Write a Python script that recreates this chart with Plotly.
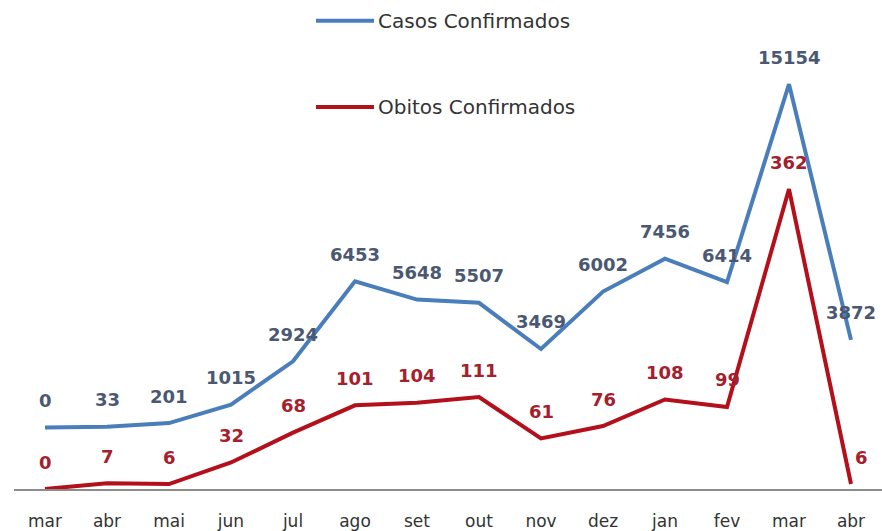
import plotly.graph_objects as go

months = ["mar", "abr", "mai", "jun", "jul", "ago", "set", "out", "nov", "dez", "jan", "fev", "mar", "abr"]
casos = [0, 33, 201, 1015, 2924, 6453, 5648, 5507, 3469, 6002, 7456, 6414, 15154, 3872]
obitos = [0, 7, 6, 32, 68, 101, 104, 111, 61, 76, 108, 99, 362, 6]

x_idx = list(range(len(months)))

BLUE = "#4a7ebb"
RED = "#b3101c"
BLUE_TXT = "#4a5872"
RED_TXT = "#a3202c"

PLOT_H = 494.0

fig = go.Figure()
fig.add_trace(go.Scatter(x=x_idx, y=obitos, mode="lines", name="Obitos Confirmados",
                         line=dict(color=RED, width=4), yaxis="y", showlegend=False))
fig.add_trace(go.Scatter(x=x_idx, y=casos, mode="lines", name="Casos Confirmados",
                         line=dict(color=BLUE, width=4), yaxis="y2", showlegend=False))

annotations = []
for i, v in enumerate(casos):
    annotations.append(dict(x=i, y=v, xref="x", yref="y2", text=str(v), showarrow=False,
                            yshift=27, xanchor="center", yanchor="middle",
                            font=dict(family="DejaVu Sans", size=18, color=BLUE_TXT, weight="bold")))
for i, v in enumerate(obitos):
    annotations.append(dict(x=i, y=v, xref="x", yref="y", text=str(v), showarrow=False,
                            yshift=27, xshift=(10 if i == len(obitos) - 1 else 0),
                            xanchor="center", yanchor="middle",
                            font=dict(family="DejaVu Sans", size=18, color=RED_TXT, weight="bold")))

# custom legend
legend_items = [("Casos Confirmados", BLUE, 21), ("Obitos Confirmados", RED, 108)]
shapes = []
for name, col, ypix in legend_items:
    yp = 1 - ypix / PLOT_H
    shapes.append(dict(type="line", xref="paper", yref="paper",
                       x0=(316 - 14) / 868.0, x1=(374 - 14) / 868.0, y0=yp, y1=yp,
                       line=dict(color=col, width=4)))
    annotations.append(dict(xref="paper", yref="paper", x=(376 - 14) / 868.0, y=yp,
                            text=name, showarrow=False, xanchor="left", yanchor="middle",
                            font=dict(family="DejaVu Sans", size=20, color="#333333")))

fig.update_layout(
    width=882, height=531,
    margin=dict(l=14, r=0, t=0, b=37),
    paper_bgcolor="white", plot_bgcolor="white",
    xaxis=dict(tickmode="array", tickvals=x_idx, ticktext=months, range=[-0.5, 13.5],
               showgrid=False, zeroline=False, showline=True, linecolor="#8c8c8c", linewidth=1.5,
               ticks="", ticklabelstandoff=16,
               tickfont=dict(family="DejaVu Sans", size=17, color="#333333")),
    yaxis=dict(range=[0, 590.2], visible=False, showgrid=False, zeroline=False),
    yaxis2=dict(range=[-2708, 18866], overlaying="y", visible=False, showgrid=False, zeroline=False),
    annotations=annotations,
    shapes=shapes,
)

fig.write_html("out.html", config={"displayModeBar": False},
               post_script="document.body.style.margin='0px';document.body.style.overflow='hidden';")
